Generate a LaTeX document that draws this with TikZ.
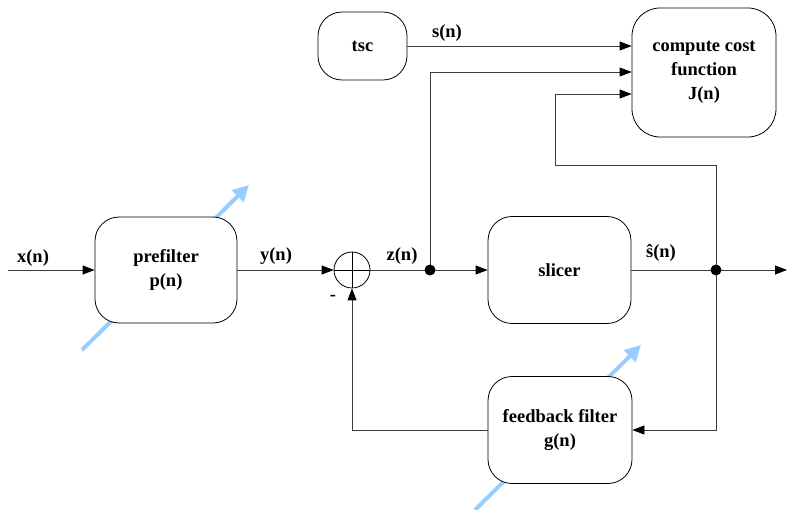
\documentclass[tikz,border=0pt]{standalone}
\usepackage{fontspec}
\setmainfont{Liberation Serif}
\usetikzlibrary{arrows.meta}
\definecolor{lblue}{RGB}{153,204,255}
\definecolor{lgray}{RGB}{60,60,60}
\tikzset{
  block/.style={draw, rounded corners=24pt, line width=0.8pt, fill=white, align=center,
    font=\bfseries\fontsize{18.5}{24}\selectfont, inner sep=0pt},
  conn/.style={line width=0.8pt, draw=lgray},
  arr/.style={conn, -{Triangle[length=12pt,width=9pt,color=black,fill=black]}},
  adapt/.style={line width=4pt, draw=lblue, -{Triangle[length=16pt,width=16pt]}},
  lbl/.style={font=\bfseries\fontsize{18.5}{20}\selectfont, inner sep=0pt},
  dot/.style={circle, fill=black, inner sep=0pt, minimum size=11pt}
}
\begin{document}
\begin{tikzpicture}[x=1pt,y=-1pt]
\useasboundingbox (0,0) rectangle (787,510);
% adaptation arrows (behind blocks)
\draw[adapt] (82,350) -- (249,185);
\draw[adapt] (475,510) -- (641,345);
% blocks
\node[block, minimum width=142pt, minimum height=106pt] (pre) at (166,270) {prefilter\\p(n)};
\node[block, minimum width=89pt, minimum height=68pt] (tsc) at (362.5,46) {tsc};
\node[block, minimum width=144pt, minimum height=129pt, rounded corners=28pt] (cost) at (704,72.5) {compute cost\\function\\J(n)};
\node[block, minimum width=143pt, minimum height=107pt] (sl) at (559.5,270) {slicer};
\node[block, minimum width=144pt, minimum height=107pt] (fb) at (560,430) {feedback filter\\g(n)};
\node[draw, circle, line width=0.8pt, minimum size=36pt, inner sep=0pt] (sum) at (352,270) {};
\draw[line width=0.8pt] (sum.north) -- (sum.south) (sum.west) -- (sum.east);
% points
\coordinate (xin) at (8,270);
\coordinate (out) at (787,270);
\node[dot] (d1) at (430,270) {};
\node[dot] (d2) at (716,270) {};
% connectors
\draw[arr] (xin) -- (pre.west);
\draw[arr] (pre.east) -- (sum.west);
\draw[conn] (sum.east) -- (d1.center);
\draw[arr] (d1.center) -- (sl.west);
\draw[arr] (d1.center) |- (cost.west |- 0,72);
\draw[arr] (tsc.east) -- (cost.west |- tsc.east);
\draw[arr] (d2.center) |- (555,165) -- (555,94) -- (cost.west |- 0,94);
\draw[conn] (sl.east) -- (d2.center);
\draw[arr] (d2.center) -- (out);
\draw[arr] (d2.center) |- (fb.east);
\draw[arr] (fb.west) -| (sum.south);
% redraw dots on top
\fill (d1) circle (5pt) (d2) circle (5pt);
% labels
\node[lbl] (lx) at (33,258) {x(n)};
\node[lbl] (ly) at (276,256) {y(n)};
\node[lbl] (lz) at (402,256) {z(n)};
\node[lbl] (ls) at (447,33) {s(n)};
\node[lbl] (lsh) at (661,253) {\^{s}(n)};
\node[lbl] (lm) at (333,298) {-};
\end{tikzpicture}
\end{document}
